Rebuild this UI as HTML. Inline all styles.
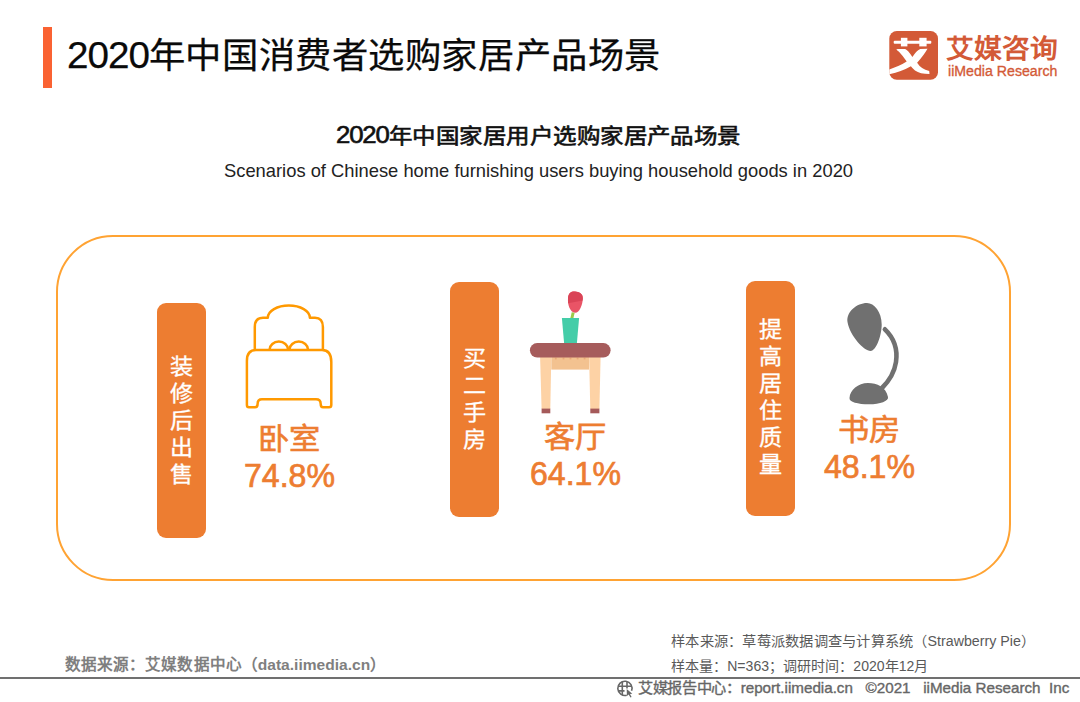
<!DOCTYPE html>
<html lang="zh-CN">
<head>
<meta charset="utf-8">
<style>
html,body{margin:0;padding:0;background:#fff;}
body{width:1080px;height:702px;position:relative;overflow:hidden;font-family:"Liberation Sans",sans-serif;}
.a{position:absolute;white-space:nowrap;}
.t{position:absolute;white-space:nowrap;line-height:1;transform-origin:0 0;}
#bar{left:43px;top:27px;width:9px;height:61px;background:#FA6232;}
#box{left:56px;top:235px;width:951px;height:342px;border:2px solid #FFA333;border-radius:57px;}
.pill{position:absolute;width:49px;height:235px;background:#ED7D31;border-radius:9px;}
#line{left:0;top:677px;width:1080px;height:2px;background:#707070;}
</style>
</head>
<body>
<div class="a" id="bar"></div>
<svg class="a" style="left:889px;top:31px" width="49" height="49" viewBox="0 0 49 49">
  <rect x="0.3" y="0" width="48.7" height="48.8" rx="7.5" fill="#D35A37"/>
  <rect x="4.7" y="9.8" width="37.6" height="3" rx="1" fill="#fff"/>
  <rect x="11.9" y="6.8" width="6.5" height="8.6" fill="#fff"/>
  <rect x="30.3" y="6.8" width="7.3" height="8.6" fill="#fff"/>
  <path d="M7.4 18.5 Q7.3 17.9 9 17.9 L16.2 17.9 Q19 19 23.4 26 Q27 20 31.2 17.9 L38.5 17.7 Q35 24 28.1 31.7 Q32 38 40.2 40 L40.5 43.1 Q31 43 26 39.5 Q23.5 37.5 21.9 35.3 Q13 40.5 0.3 43.3 L0.3 38.4 Q11 35 17.7 30.6 Q14 25 10 20.8 Q8 19.6 7.4 18.5 Z" fill="#fff"/>
</svg>
<div class="a" id="box"></div>
<div class="pill" style="left:157px;top:303px;"></div>
<div class="pill" style="left:450px;top:282px;"></div>
<div class="pill" style="left:746px;top:281px;"></div>
<svg class="a" style="left:0;top:0" width="1080" height="702" viewBox="0 0 1080 702">
  <g fill="none" stroke="#FF9900" stroke-width="2.5" stroke-linejoin="round">
    <path d="M254.8 349.6 V327 Q254.8 317.7 263 317.7 H267.8 A21 12.2 0 0 1 309.9 317.7 H315 Q322.9 317.7 322.9 327 V349.6"/>
    <path d="M269.6 349.6 A9.25 8 0 0 1 288.1 349.6"/>
    <path d="M289.5 349.6 A9.25 8 0 0 1 308 349.6"/>
    <path d="M246.9 405 V361 Q246.9 350.1 256 350.1 H322 Q331.3 350.1 331.3 362 V405 Q331.3 407.3 329 407.3 H323 Q320.7 407.3 320.7 404 Q320.7 399.3 316 399.3 H262 Q257.6 399.3 257.6 404 Q257.6 407.3 255 407.3 H249 Q246.9 407.3 246.9 405 Z"/>
  </g>
  <path d="M573.2 312.5 L571.8 318.5" stroke="#9CCB4A" stroke-width="3"/>
  <path d="M575 312.8 C 570 312, 567.5 305, 568 298 C 568.5 293, 571 291.3, 575 291.5 C 579 291.8, 583 293.5, 582.8 298.5 C 582.6 305, 579.5 313, 575 312.8 Z" fill="#E95466"/>
  <path d="M568 298 C 568.5 293, 571 291.3, 575 291.5 C 579 291.8, 583 293.5, 582.8 298.5 L 582.6 300.5 L 568.1 303.2 Z" fill="#DA4457"/>
  <path d="M561.9 318 H579.1 L576.9 342.9 H564.1 Z" fill="#44CDA8"/>
  <rect x="551.3" y="357" width="37.8" height="12.6" fill="#F3C290"/>
  <rect x="554.9" y="357.6" width="1.8" height="1.8" fill="#E8A878"/><rect x="562.6" y="357.6" width="1.8" height="1.8" fill="#E8A878"/><rect x="569.6" y="357.6" width="1.8" height="1.8" fill="#E8A878"/><rect x="576.7" y="357.6" width="1.8" height="1.8" fill="#E8A878"/><rect x="583.7" y="357.6" width="1.8" height="1.8" fill="#E8A878"/>
  <path d="M540.1 357 H551.3 L550.3 409 H541.6 Z" fill="#FDD2A5"/>
  <path d="M589.1 357 H600.6 L599.4 409 H590.3 Z" fill="#FDD2A5"/>
  <rect x="541.6" y="408.6" width="8.7" height="4.7" fill="#A55A5A"/>
  <rect x="590.3" y="408.6" width="9.1" height="4.7" fill="#A55A5A"/>
  <rect x="529.9" y="343" width="80.7" height="14.6" rx="7.3" fill="#A65C5C"/>
  <g fill="#707070">
    <path d="M866.9 303.1 C874 303, 881.7 312, 881.7 324.6 C881.7 335, 876.5 351, 870.6 351 C864 351, 850 336, 847.5 322 C846 312, 857 303.1, 866.9 303.1 Z"/>
    <path d="M849.5 398 C850 390, 858 383, 868 383 C877 383, 886 387, 888 397 C889 401, 880 404.3, 869 404.3 C858 404.3, 849 402, 849.5 398 Z"/>
  </g>
  <path d="M884.9 329.3 C893 337, 898 348, 896 362 C894.5 372, 889 381, 882 388" fill="none" stroke="#707070" stroke-width="4.6" stroke-linecap="round"/>
</svg>
<div class="a" id="line"></div>
<svg class="a" style="left:612px;top:678px" width="28" height="22" viewBox="0 0 28 22">
  <g fill="none" stroke="#666" stroke-width="1.6">
    <path d="M14.74 17.16 A7.1 7.1 0 1 1 19.57 12.73"/>
    <path d="M10.3 3.6 V17 M15 3.6 V10.5 M6 8.3 H19.8 M6 12.9 H12.5"/>
  </g>
  <path d="M14.7 11 L14.9 18 L16.7 16.4 L18.4 19.6 L19.6 19 L18 15.9 L20.3 15.7 Z" fill="#666"/>
</svg>

<div class="t" id="title" style="left:66.83px;top:36.81px;font-size:34.77px;transform:scaleX(1.0450);color:#0a0a0a;-webkit-text-stroke:0.25px #0a0a0a;"><span style="font-size:37px;letter-spacing:-1px">2020</span>年中国消费者选购家居产品场景</div>
<div class="t" id="logo_t" style="left:946.23px;top:36.92px;font-size:25.75px;transform:scaleX(1.0782);color:#D35A37;font-weight:bold;">艾媒咨询</div>
<div class="t" id="logo_e" style="left:948.01px;top:62.76px;font-size:15.51px;transform:scaleX(0.9135);color:#D35A37;-webkit-text-stroke:0.35px #D35A37;">iiMedia Research</div>
<div class="t" id="sub1" style="left:335.97px;top:123.72px;font-size:21.03px;transform:scaleX(1.1180);color:#111;-webkit-text-stroke:0.6px #111;"><span style="font-size:23px;letter-spacing:-1px">2020</span>年中国家居用户选购家居产品场景</div>
<div class="t" id="sub2" style="left:223.93px;top:161.39px;font-size:18.98px;transform:scaleX(0.9668);color:#222;">Scenarios of Chinese home furnishing users buying household goods in 2020</div>
<div class="t" id="lab1c" style="left:258.12px;top:424.52px;font-size:29.20px;transform:scaleX(1.0700);color:#ED7D31;-webkit-text-stroke:0.6px #ED7D31;">卧室</div>
<div class="t" id="lab1n" style="left:243.87px;top:459.99px;font-size:32.50px;transform:scaleX(0.9870);color:#ED7D31;-webkit-text-stroke:0.7px #ED7D31;">74.8%</div>
<div class="t" id="lab2c" style="left:544.42px;top:423.07px;font-size:29.20px;transform:scaleX(1.0700);color:#ED7D31;-webkit-text-stroke:0.6px #ED7D31;">客厅</div>
<div class="t" id="lab2n" style="left:530.17px;top:458.02px;font-size:32.50px;transform:scaleX(0.9870);color:#ED7D31;-webkit-text-stroke:0.7px #ED7D31;">64.1%</div>
<div class="t" id="lab3c" style="left:838.19px;top:416.30px;font-size:29.20px;transform:scaleX(1.0700);color:#ED7D31;-webkit-text-stroke:0.6px #ED7D31;">书房</div>
<div class="t" id="lab3n" style="left:824.30px;top:450.78px;font-size:32.50px;transform:scaleX(0.9870);color:#ED7D31;-webkit-text-stroke:0.7px #ED7D31;">48.1%</div>
<div class="t" id="pill1t" style="left:170.11px;top:353.00px;font-size:22.00px;line-height:27px;transform:scaleX(1.0500);color:#fff;text-align:center;-webkit-text-stroke:0.3px #fff;">装<br>修<br>后<br>出<br>售</div>
<div class="t" id="pill2t" style="left:462.76px;top:345.10px;font-size:22.00px;line-height:27px;transform:scaleX(1.0500);color:#fff;text-align:center;-webkit-text-stroke:0.3px #fff;">买<br>二<br>手<br>房</div>
<div class="t" id="pill3t" style="left:758.95px;top:315.90px;font-size:22.00px;line-height:27px;transform:scaleX(1.0500);color:#fff;text-align:center;-webkit-text-stroke:0.3px #fff;">提<br>高<br>居<br>住<br>质<br>量</div>
<div class="t" id="src" style="left:65.00px;top:656.89px;font-size:15.50px;transform:scaleX(1.0040);color:#7f7f7f;font-weight:bold;">数据来源：艾媒数据中心（data.iimedia.cn）</div>
<div class="t" id="r1" style="left:671.38px;top:633.79px;font-size:14.00px;transform:scaleX(1.0179);color:#595959;">样本来源：草莓派数据调查与计算系统（Strawberry Pie）</div>
<div class="t" id="r2" style="left:671.48px;top:658.91px;font-size:14.00px;transform:scaleX(1.0038);color:#595959;">样本量：N=363；调研时间：2020年12月</div>
<div class="t" id="r3" style="left:638.38px;top:680.96px;font-size:14.50px;transform:scaleX(1.0474);color:#666;-webkit-text-stroke:0.35px #666;">艾媒报告中心：report.iimedia.cn&nbsp;&nbsp;&nbsp;©2021&nbsp;&nbsp;&nbsp;iiMedia Research&nbsp;&nbsp;Inc</div>
</body>
</html>
